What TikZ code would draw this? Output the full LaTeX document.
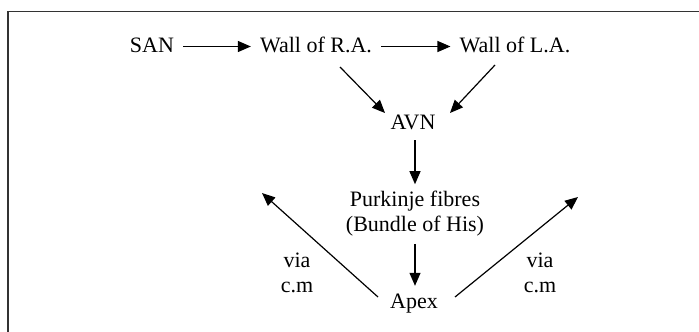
\documentclass[tikz,border=0pt]{standalone}
\usepackage{fontspec}
\setmainfont{Liberation Serif}
\usetikzlibrary{arrows.meta}
\begin{document}
\begin{tikzpicture}[x=1pt,y=1pt,
  lbl/.style={font=\fontsize{22}{25}\selectfont, inner xsep=9pt, inner ysep=7pt, text height=15pt, text depth=4pt},
  arr/.style={-{Triangle[length=13pt,width=11pt]}, line width=1.2pt},
  frame/.style={line width=1.5pt, draw=black!80}]
\useasboundingbox (0,0) rectangle (699,-332);
\draw[frame] (8,-332) -- (8,-11.5) -- (699,-11.5);
\node[lbl, anchor=base] (san) at (152,-52) {SAN};
\node[lbl, anchor=base] (wra) at (316,-52) {Wall of R.A.};
\node[lbl, anchor=base] (wla) at (515,-52) {Wall of L.A.};
\node[lbl, anchor=base] (avn) at (413,-129) {AVN};
\node[font=\fontsize{22}{25}\selectfont, align=center, inner sep=7pt] (pk) at (415,-214) {Purkinje fibres\\(Bundle of His)};
\node[lbl, anchor=base] (apex) at (414,-308) {Apex};
\node[font=\fontsize{22}{25}\selectfont, align=center, inner sep=0pt, anchor=base] (vl) at (297,-292) {via\\c.m};
\node[font=\fontsize{22}{25}\selectfont, align=center, inner sep=0pt, anchor=base] (vr) at (540,-292) {via\\c.m};
\coordinate (lend) at (262,-193);
\coordinate (rend) at (578,-197);
\draw[arr] (san) -- (wra);
\draw[arr] (wra) -- (wla);
\draw[arr] ([xshift=24pt,yshift=-15pt]wra.base) -- ([xshift=-28pt,yshift=16pt]avn.base);
\draw[arr] ([xshift=-20pt,yshift=-13pt]wla.base) -- ([xshift=37pt,yshift=16pt]avn.base);
\draw[arr] ([xshift=2pt]avn.south) -- (pk.north);
\draw[arr] (pk.south) -- ([xshift=1pt]apex.north);
\draw[arr] ([xshift=-36pt,yshift=11pt]apex.base) -- (lend);
\draw[arr] ([xshift=41pt,yshift=11pt]apex.base) -- (rend);
\end{tikzpicture}
\end{document}
